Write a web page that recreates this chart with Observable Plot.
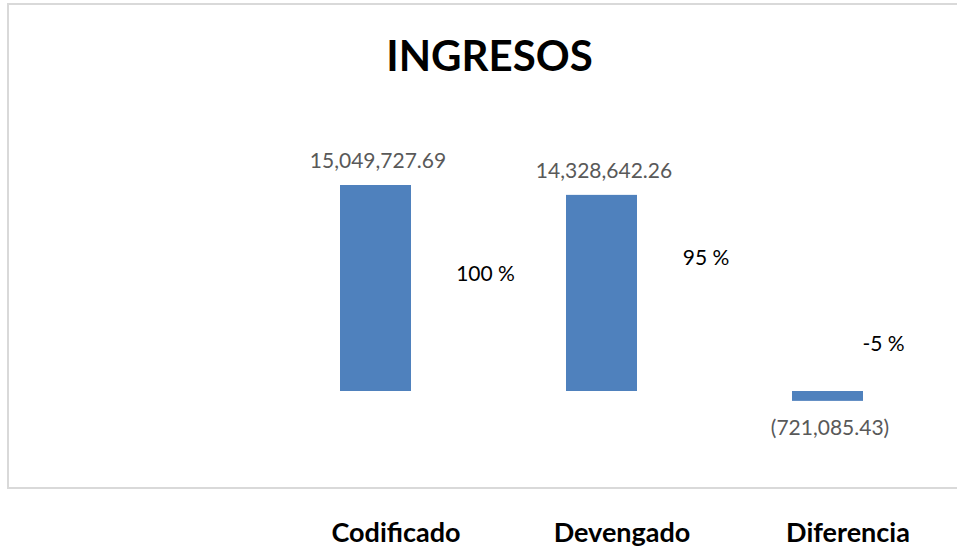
<!DOCTYPE html>
<html>
<head>
<meta charset="utf-8">
<script src="https://cdn.jsdelivr.net/npm/d3@7"></script>
<script src="https://cdn.jsdelivr.net/npm/@observablehq/plot@0.6"></script>
<style>
  html, body { margin: 0; padding: 0; background: #fff; overflow: hidden; }
  #wrap { position: relative; width: 957px; height: 546px; }
  #border { position: absolute; left: 7px; top: 3px; width: 960px; height: 482px; border: 2px solid #d9d9d9; box-sizing: content-box; }
  #chart { position: absolute; left: 0; top: 0; }
</style>
</head>
<body>
<div id="wrap"><div id="border"></div><div id="chart"></div></div>
<script>
const title = "INGRESOS";
const categories = ["Codificado", "Devengado", "Diferencia"];
const values = [15049727.69, 14328642.26, -721085.43];
const valueLabels = ["15,049,727.69", "14,328,642.26", "(721,085.43)"];
const percentLabels = ["100 %", "95 %", "-5 %"];

// layout (pixel offsets of the percentage labels from each category's zero point)
const pctDx = [109.5, 104, 55.5];
const pctDy = [-117, -133.5, -47];

const rows = categories.map((c, i) => ({
  cat: c, value: values[i], label: valueLabels[i], pct: percentLabels[i], pdx: pctDx[i], pdy: pctDy[i]
}));

const font = "Lato, 'Open Sans', sans-serif";

const marks = [
  Plot.barY(rows, {x: "cat", y: "value", fill: "#4f81bd"}),
  Plot.text(rows.filter(d => d.value >= 0), {x: "cat", y: "value", text: "label", dy: -24.5, dx: 2, fill: "#595959", fontSize: 21}),
  Plot.text(rows.filter(d => d.value < 0), {x: "cat", y: "value", text: "label", dy: 27, dx: 2, fill: "#595959", fontSize: 21}),
  ...rows.map(r => Plot.text([r], {x: "cat", y: () => 0, text: "pct", dx: r.pdx, dy: r.pdy, fill: "#000", fontSize: 21})),
  Plot.text([title], {frameAnchor: "top", dy: 53, dx: 6.5, fontSize: 42, fontWeight: "bold", fill: "#000", lineAnchor: "middle"}),
  Plot.axisX({tickSize: 0, tickPadding: 35, dx: 20, fontSize: 27, fontWeight: "bold", fill: "#000", label: null})
];

const chart = Plot.plot({
  width: 957,
  height: 546,
  marginTop: 4,
  marginLeft: 8,
  marginRight: 0,
  marginBottom: 59,
  style: {fontFamily: font, background: "transparent", color: "#000"},
  x: {domain: categories, range: [262.5, 940.5], paddingInner: 0.686, paddingOuter: 0.343, axis: null},
  y: {domain: [0, values[0]], range: [391, 185], axis: null},
  marks
});
document.getElementById("chart").appendChild(chart);
</script>
</body>
</html>
